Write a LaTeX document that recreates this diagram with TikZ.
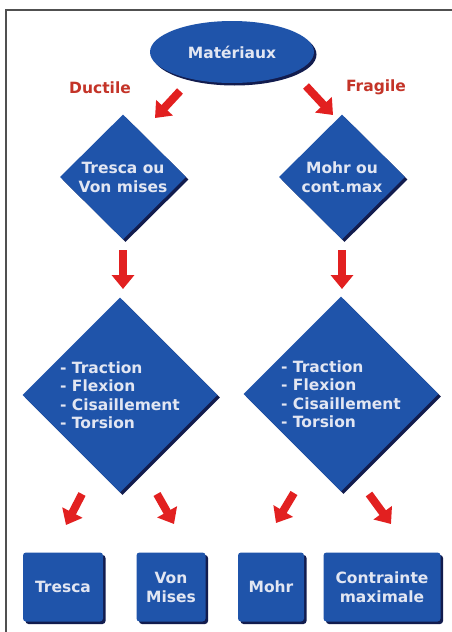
\documentclass[tikz,border=0pt]{standalone}
\usepackage{fontspec}
\setmainfont{DejaVu Sans}
\usetikzlibrary{shapes.geometric,arrows.meta,shadows}
\definecolor{boxblue}{RGB}{31,84,170}
\definecolor{shadownavy}{RGB}{18,28,78}
\definecolor{txtlight}{RGB}{226,230,242}
\definecolor{arrowred}{RGB}{226,32,32}
\definecolor{labelred}{RGB}{196,52,40}
\definecolor{framegray}{RGB}{80,80,80}
\tikzset{
  txt/.style={font=\fontsize{15.5}{19}\selectfont\bfseries, text=txtlight},
  blueshape/.style={fill=boxblue, draw=none, inner sep=0pt,
    drop shadow={shadow xshift=2.5pt, shadow yshift=-2.5pt, fill=shadownavy, opacity=1}},
  ell/.style={blueshape, ellipse, minimum width=164pt, minimum height=62pt},
  dia/.style={blueshape, diamond, aspect=1},
  smalldia/.style={dia, minimum width=126pt, minimum height=125pt},
  bigdia/.style={dia, minimum width=195pt, minimum height=195pt},
  resbox/.style={blueshape, rectangle, rounded corners=3pt, minimum height=69pt, txt, align=center},
  catlabel/.style={font=\fontsize{15.5}{19}\selectfont\bfseries, text=labelred},
  redarrow/.style={draw=arrowred, line width=8pt, -{Triangle[length=14pt,width=22pt]}},
}
\begin{document}
\begin{tikzpicture}[x=1pt,y=-1pt]
\useasboundingbox (0,0) rectangle (452,632);
\fill[white] (0,0) rectangle (452,632);
% frame
\draw[framegray, line width=1.5pt] (6,632) -- (6,10) -- (452,10);

% nodes
\node[ell, txt] (mat) at (232,52) {Matériaux};
\node[catlabel] (duc) at (100,88) {Ductile};
\node[catlabel] (fra) at (376,87) {Fragile};

\node[smalldia, label={[txt, align=center, font=\fontsize{15.5}{19}\selectfont\bfseries]center:Tresca ou\\Von mises}] (d1) at (123,177) {};
\node[smalldia, label={[txt, align=center, font=\fontsize{15.5}{19}\selectfont\bfseries]center:Mohr ou\\cont.max}] (d2) at (342,177) {};

\node[bigdia, label={[txt, align=left, font=\fontsize{15.5}{18.5}\selectfont\bfseries]center:- Traction\\- Flexion\\- Cisaillement\\- Torsion}] (d3) at (120,395) {};
\node[bigdia, label={[txt, align=left, font=\fontsize{15.5}{18.5}\selectfont\bfseries]center:- Traction\\- Flexion\\- Cisaillement\\- Torsion}] (d4) at (341,394) {};

\node[resbox, minimum width=80pt] (b1) at (63,587) {Tresca};
\node[resbox, minimum width=69pt] (b2) at (171,587) {Von\\Mises};
\node[resbox, minimum width=66pt] (b3) at (271,587) {Mohr};
\node[resbox, minimum width=117pt] (b4) at (382,587) {Contrainte\\maximale};

% arrow end points
\coordinate (a1s) at (180,91);
\coordinate (a1e) at (155,118);
\coordinate (a2s) at (306,86);
\coordinate (a2e) at (333,115);
\coordinate (a3s) at (123,250);
\coordinate (a3e) at (123,289);
\coordinate (a4s) at (342,250);
\coordinate (a4e) at (342,289);
\coordinate (a5s) at (82,494);
\coordinate (a5e) at (66,525);
\coordinate (a6s) at (157,494);
\coordinate (a6e) at (174,524);
\coordinate (a7s) at (294,493);
\coordinate (a7e) at (276,523);
\coordinate (a8s) at (369,494);
\coordinate (a8e) at (391,524);

\draw[redarrow] (a1s) -- (a1e);
\draw[redarrow] (a2s) -- (a2e);
\draw[redarrow] (a3s) -- (a3e);
\draw[redarrow] (a4s) -- (a4e);
\draw[redarrow] (a5s) -- (a5e);
\draw[redarrow] (a6s) -- (a6e);
\draw[redarrow] (a7s) -- (a7e);
\draw[redarrow] (a8s) -- (a8e);
\end{tikzpicture}
\end{document}
